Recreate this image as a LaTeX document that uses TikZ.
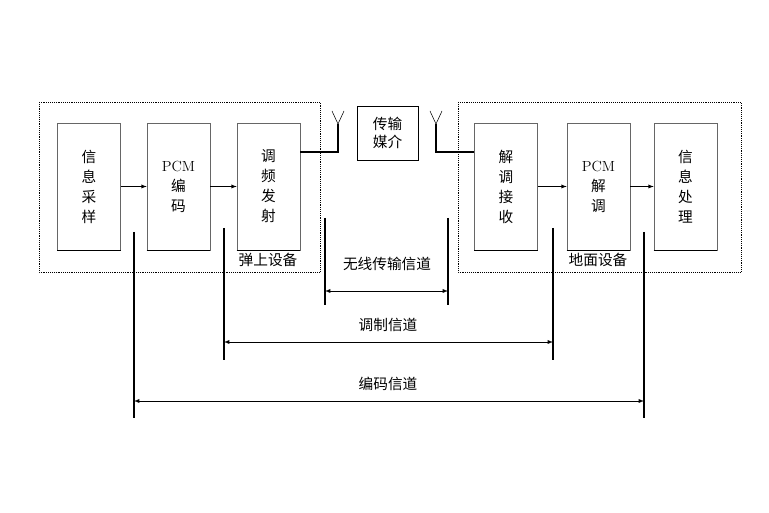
\documentclass[tikz,border=0pt]{standalone}
\usepackage{fontspec}
\newfontfamily\cjk{Noto Sans CJK SC}
\usetikzlibrary{positioning}
\begin{document}
\begin{tikzpicture}[x=0.75pt,y=-0.75pt,>=latex,
  blk/.style={draw=black!60,minimum width=47.25pt,minimum height=95.25pt,align=center,font=\cjk\fontsize{11}{15}\selectfont},
  grp/.style={draw,densely dotted,thin},
  lbl/.style={font=\cjk\fontsize{11}{13}\selectfont},
  tick/.style={thick}]
\useasboundingbox (0,0) rectangle (769,513);
% dotted groups
\draw[grp] (39,102) rectangle (320,272);
\draw[grp] (458,102) rectangle (741,272);
% blocks
\node[blk] (samp) at (89,186.5) {信\\息\\采\\样};
\node[blk] (enc) at (178.5,186.5) {{\rmfamily PCM}\\编\\码};
\node[blk] (tx) at (268.5,186.5) {调\\频\\发\\射};
\node[blk] (rx) at (506,186.5) {解\\调\\接\\收};
\node[blk] (dec) at (598.5,186.5) {{\rmfamily PCM}\\解\\调};
\node[blk] (proc) at (685.5,186.5) {信\\息\\处\\理};
\foreach \b in {samp,enc,tx,rx,dec,proc}
  \draw[thick] (\b.south west) -- (\b.south east);
\node[draw,minimum width=45.75pt,minimum height=40.5pt,align=center,lbl] (med) at (387.5,133) {传输\\媒介};
\draw[->] (samp) -- (enc);
\draw[->] (enc) -- (tx);
\draw[->] (rx) -- (dec);
\draw[->] (dec) -- (proc);
% antennas
\coordinate (antL) at (338,124);
\coordinate (antR) at (436,124);
\draw[thick] (tx.east |- 0,152) -| (antL);
\draw[thick] (rx.west |- 0,152) -| (antR);
\foreach \a in {antL,antR}
  \draw (\a) -- ++(-6,-13) (\a) -- ++(6,-13);
\node[lbl] (onb) at (268,260) {弹上设备};
\node[lbl] (gnd) at (598,260) {地面设备};
% channels
\coordinate (w1) at (325,218); \coordinate (w2) at (448,218);
\coordinate (m1) at (224,228); \coordinate (m2) at (553,228);
\coordinate (c1) at (134,232); \coordinate (c2) at (644,232);
\draw[tick] (w1) -- ++(0,87) (w2) -- ++(0,87);
\draw[tick] (m1) -- ++(0,132) (m2) -- ++(0,132);
\draw[tick] (c1) -- ++(0,186) (c2) -- ++(0,186);
\draw[<->] (w1 |- 0,291) -- (w2 |- 0,291);
\draw[<->] (m1 |- 0,342) -- (m2 |- 0,342);
\draw[<->] (c1 |- 0,401) -- (c2 |- 0,401);
\node[lbl] (wch) at (387,264) {无线传输信道};
\node[lbl] (mch) at (388,325) {调制信道};
\node[lbl] (cch) at (388,384) {编码信道};
\end{tikzpicture}
\end{document}
